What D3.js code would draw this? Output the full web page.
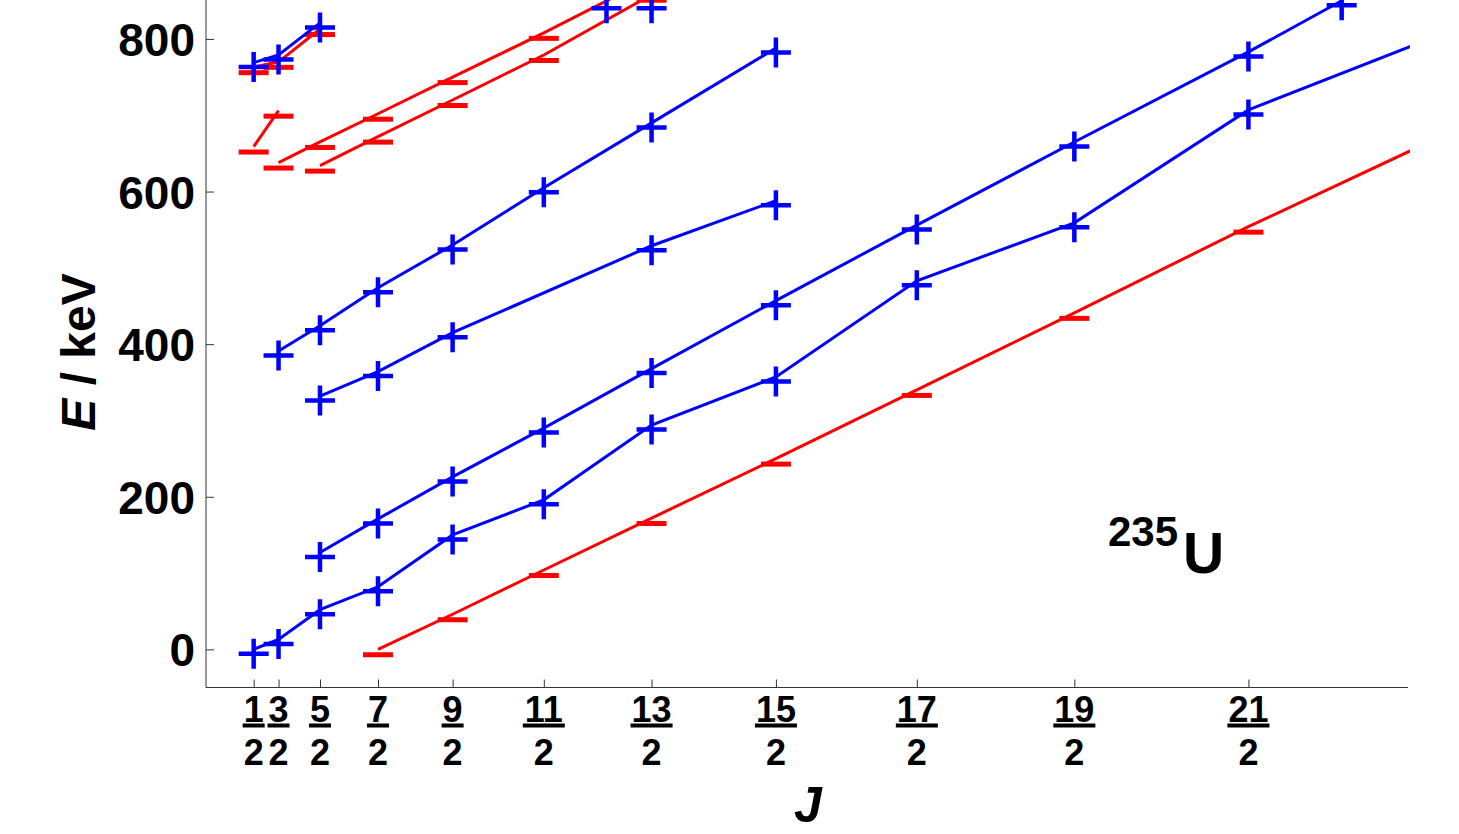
<!DOCTYPE html>
<html lang="en">
<head>
<meta charset="UTF-8">
<title>235U rotational bands</title>
<style>
  body, html { margin: 0; padding: 0; background: #fff; }
  svg { display: block; }
  text { font-family: "Liberation Sans", Arial, Helvetica, sans-serif; font-weight: bold; fill: #000; }
</style>
</head>
<body>
<script src="https://d3js.org/d3.v7.min.js"></script>
<script>
// x axis is J(J+1), labelled with J as fractions
var tickJ = [0.5, 1.5, 2.5, 3.5, 4.5, 5.5, 6.5, 7.5, 8.5, 9.5, 10.5];
var tickNum = ["1", "3", "5", "7", "9", "11", "13", "15", "17", "19", "21"];
var yTicks = [0, 200, 400, 600, 800];

// blue bands (crosses)
var b1J = [0.5, 1.5, 2.5, 3.5, 4.5, 5.5, 6.5, 7.5, 8.5, 9.5, 10.5, 11.5];
var b1E = [0, 13, 52, 82, 150, 196, 294, 357, 483, 559, 707, 805];
var b2J = [2.5, 3.5, 4.5, 5.5, 6.5, 7.5, 8.5, 9.5, 10.5, 11];
var b2E = [127, 171, 226, 290, 368, 457, 556, 665, 783, 850];
var b3J = [1.5, 2.5, 3.5, 4.5, 5.5, 6.5, 7.5];
var b3E = [391, 424, 474, 530, 605, 690, 788];
var b4J = [2.5, 3.5, 4.5, 6.5, 7.5];
var b4E = [332, 364, 415, 529, 588];
var b5J = [0.5, 1.5, 2.5];
var b5E = [769, 779, 821];
var bLooseJ = [6.1, 6.5];
var bLooseE = [846, 846];

// red bands (dashes)
var r0J = [3.5, 4.5, 5.5, 6.5, 7.5, 8.5, 9.5, 10.5, 11.5];
var r0E = [0, 46, 104, 172, 250, 340, 441, 554, 671];
var r1J = [0.5, 1.5, 2.5];
var r1E = [763, 770, 813];
var r2J = [1.5, 2.5, 3.5, 4.5, 5.5, 6.5];
var r2E = [638, 665, 702, 750, 808, 880];
var r3J = [2.5, 3.5, 4.5, 5.5, 6.5];
var r3E = [634, 672, 720, 779, 858];
var r4J = [0.5, 1.5];
var r4E = [659, 706];

function pts(js, es) {
    return js.map(function(j, i) { return {j: j, e: es[i]}; });
}

var series = [
    {color: "#ff0000", mark: "dash", joined: true, data: pts(r0J, r0E)},
    {color: "#ff0000", mark: "dash", joined: true, data: pts(r1J, r1E)},
    {color: "#ff0000", mark: "dash", joined: true, data: pts(r2J, r2E)},
    {color: "#ff0000", mark: "dash", joined: true, data: pts(r3J, r3E)},
    {color: "#ff0000", mark: "dash", joined: true, data: pts(r4J, r4E)},
    {color: "#0000ff", mark: "cross", joined: true, data: pts(b1J, b1E)},
    {color: "#0000ff", mark: "cross", joined: true, data: pts(b2J, b2E)},
    {color: "#0000ff", mark: "cross", joined: true, data: pts(b3J, b3E)},
    {color: "#0000ff", mark: "cross", joined: true, data: pts(b4J, b4E)},
    {color: "#0000ff", mark: "cross", joined: true, data: pts(b5J, b5E)},
    {color: "#0000ff", mark: "cross", joined: false, data: pts(bLooseJ, bLooseE)}
];

var width = 1459, height = 834;
var plotLeft = 206, plotRight = 1408, plotTop = 0.8, plotBottom = 687.5;

var svg = d3.select("body").append("svg")
    .attr("width", width)
    .attr("height", height);

var x = d3.scaleLinear().domain([-5, 140]).range([plotLeft, plotRight]);
var y = d3.scaleLinear().domain([-50, 850]).range([plotBottom, plotTop]);
function jx(j) { return x(j * (j + 1)); }

var defs = svg.append("defs");
defs.append("clipPath").attr("id", "clipLines")
    .append("rect").attr("x", plotLeft).attr("y", -2).attr("width", 1410 - plotLeft).attr("height", plotBottom + 2);
defs.append("clipPath").attr("id", "clipMarks")
    .append("rect").attr("x", 0).attr("y", -40).attr("width", 1410).attr("height", plotBottom + 40);

// axes
var axisColor = "#333";
var yAxis = svg.append("g")
    .attr("transform", "translate(" + plotLeft + ",0)")
    .call(d3.axisLeft(y).tickValues(yTicks).tickSizeInner(-8).tickSizeOuter(0).tickPadding(11));
yAxis.select(".domain").attr("d", "M0," + plotBottom + "V0").attr("stroke", axisColor);
yAxis.selectAll("line").attr("stroke", axisColor);
yAxis.selectAll("text")
    .attr("font-size", 46)
    .attr("font-family", "Liberation Sans, Arial, sans-serif")
    .attr("font-weight", "bold")
    .attr("dy", "0.36em");

var xAxis = svg.append("g")
    .attr("transform", "translate(0," + plotBottom + ")")
    .call(d3.axisBottom(x).tickValues(tickJ.map(function(j) { return j * (j + 1); }))
        .tickSizeInner(-8).tickSizeOuter(0).tickFormat(""));
xAxis.select(".domain").attr("d", "M" + plotLeft + ",0H" + plotRight).attr("stroke", axisColor);
xAxis.selectAll("line").attr("stroke", axisColor);

// fraction tick labels
var fs = 36;
var fr = svg.append("g").selectAll("g")
    .data(tickJ)
    .enter().append("g")
    .attr("transform", function(j) { return "translate(" + jx(j) + ",0)"; });
fr.append("text")
    .attr("y", 722)
    .attr("text-anchor", "middle")
    .attr("font-size", fs)
    .text(function(j, i) { return tickNum[i]; });
fr.append("rect")
    .attr("x", function(j, i) { return -(tickNum[i].length * 0.556 * fs + 2) / 2; })
    .attr("y", 723.5)
    .attr("width", function(j, i) { return tickNum[i].length * 0.556 * fs + 2; })
    .attr("height", 4)
    .attr("fill", "#000");
fr.append("text")
    .attr("y", 765)
    .attr("text-anchor", "middle")
    .attr("font-size", fs)
    .text("2");

// axis titles
svg.append("text")
    .attr("x", 808)
    .attr("y", 822)
    .attr("text-anchor", "middle")
    .attr("font-size", 50)
    .attr("font-style", "italic")
    .text("J");

var yt = svg.append("text")
    .attr("transform", "translate(95,352) rotate(-90)")
    .attr("text-anchor", "middle")
    .attr("font-size", 48);
yt.append("tspan").attr("font-style", "italic").text("E");
yt.append("tspan").text(" / keV");

// nucleus label
var nl = svg.append("text").attr("x", 1108).attr("y", 573);
nl.append("tspan").attr("font-size", 42).attr("dy", -27).text("235");
nl.append("tspan").attr("font-size", 57).attr("dy", 27).attr("dx", 5).text("U");

// bands
var line = d3.line()
    .x(function(d) { return jx(d.j); })
    .y(function(d) { return y(d.e); });

var crossPath = "M-15,0H15M0,-15V15";
var dashPath = "M-15,0H15";

series.forEach(function(s) {
    var g = svg.append("g");
    if (s.joined) {
        g.append("path")
            .datum(s.data)
            .attr("clip-path", "url(#clipLines)")
            .attr("d", line)
            .attr("fill", "none")
            .attr("stroke", s.color)
            .attr("stroke-width", 3);
    }
    // glyph markers sit a little below the data point, like text plot markers
    var off = s.mark === "cross" ? 4.5 : 5.5;
    g.append("g").attr("clip-path", "url(#clipMarks)")
        .selectAll("path")
        .data(s.data)
        .enter().append("path")
        .attr("transform", function(d) { return "translate(" + jx(d.j) + "," + (y(d.e) + off) + ")"; })
        .attr("d", s.mark === "cross" ? crossPath : dashPath)
        .attr("fill", "none")
        .attr("stroke", s.color)
        .attr("stroke-width", s.mark === "cross" ? 4.5 : 5);
});
</script>
</body>
</html>
